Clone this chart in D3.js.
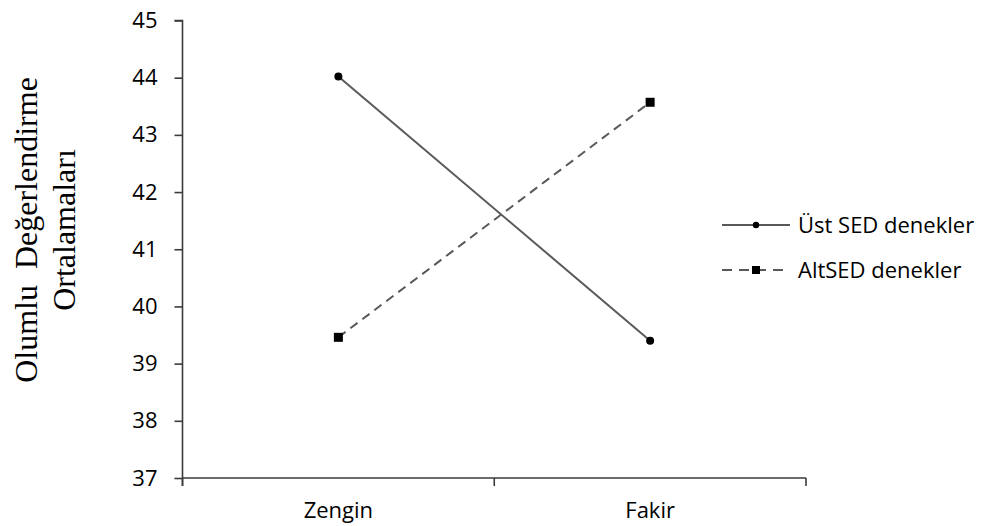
<!DOCTYPE html>
<html lang="tr">
    <head>
        <meta charset="UTF-8" />
        <title>Olumlu Değerlendirme Ortalamaları</title>
        <style>
            body {
                margin: 0;
                background: #fff;
            }

            .axis path,
            .axis line {
                stroke: #3b3b3b;
                stroke-width: 1.6px;
            }

            .axis text {
                font: 22px 'Open Sans', sans-serif;
                fill: #000;
            }

            .legend text {
                font: 22px 'Open Sans', sans-serif;
                fill: #000;
            }

            .ytitle {
                font: 32px 'Liberation Serif', 'Times New Roman', serif;
                fill: #000;
                white-space: pre;
            }

            .series {
                fill: none;
                stroke: #595959;
                stroke-width: 2px;
            }
        </style>
    </head>

    <body>
        <svg width="986" height="526"></svg>
        <script src="https://d3js.org/d3.v7.min.js"></script>
        <script>
            // data
            const categories = ['Zengin', 'Fakir'];
            const ustSED = [44.02, 39.4];
            const altSED = [39.46, 43.57];
            const seriesNames = ['Üst SED denekler', 'AltSED denekler'];
            const yTicks = [37, 38, 39, 40, 41, 42, 43, 44, 45];
            const titleLines = ['Olumlu  Değerlendirme', 'Ortalamaları'];

            const width = 986,
                height = 526;
            const svg = d3.select('svg').attr('width', width).attr('height', height);

            const x = d3.scaleBand().domain(categories).range([182.5, 806]).padding(0);
            const y = d3.scaleLinear().domain([37, 45]).range([478, 20.5]);

            // y axis
            svg.append('g')
                .attr('class', 'axis')
                .attr('transform', `translate(${x.range()[0]},0)`)
                .call(d3.axisLeft(y).tickValues(yTicks).tickSize(8).tickPadding(17).tickFormat(d3.format('d')))
                .call((g) => g.select('.domain').attr('d', `M-8,${y(45)}H0V${y(37) + 8}`));

            // x axis: labels at band centres, tick marks at band edges
            const xAxis = svg.append('g').attr('class', 'axis').attr('transform', `translate(0,${y(37)})`);
            xAxis.call(d3.axisBottom(x).tickSize(0).tickPadding(24));
            xAxis.select('.domain').attr('d', `M${x.range()[0]},0H${x.range()[1]}`);
            const edges = d3.range(categories.length + 1).map((i) => x.range()[0] + i * x.bandwidth());
            xAxis.selectAll('line.edge')
                .data(edges)
                .enter()
                .append('line')
                .attr('class', 'edge')
                .attr('x1', (d) => d)
                .attr('x2', (d) => d)
                .attr('y1', 0)
                .attr('y2', 8);

            const line = d3
                .line()
                .x((d, i) => x(categories[i]) + x.bandwidth() / 2)
                .y((d) => y(d));

            // series lines
            svg.append('path').datum(ustSED).attr('class', 'series').attr('d', line);
            svg.append('path').datum(altSED).attr('class', 'series').attr('stroke-dasharray', '9,6').attr('d', line);

            svg.selectAll('circle.ust')
                .data(ustSED)
                .enter()
                .append('circle')
                .attr('class', 'ust')
                .attr('cx', (d, i) => x(categories[i]) + x.bandwidth() / 2)
                .attr('cy', (d) => y(d))
                .attr('r', 4)
                .attr('fill', '#000');

            svg.selectAll('rect.alt')
                .data(altSED)
                .enter()
                .append('rect')
                .attr('class', 'alt')
                .attr('x', (d, i) => x(categories[i]) + x.bandwidth() / 2 - 4.5)
                .attr('y', (d) => y(d) - 4.5)
                .attr('width', 9)
                .attr('height', 9)
                .attr('fill', '#000');

            // legend
            const legend = svg.append('g').attr('class', 'legend');
            const rows = legend
                .selectAll('g')
                .data(seriesNames)
                .enter()
                .append('g')
                .attr('transform', (d, i) => `translate(722,${225 + i * 45})`);

            rows.append('line')
                .attr('class', 'series')
                .attr('x1', 0)
                .attr('x2', 68)
                .attr('stroke-dasharray', (d, i) => (i ? '10,7' : null));

            rows.filter((d, i) => i === 0)
                .append('circle')
                .attr('cx', 34)
                .attr('r', 3.2)
                .attr('fill', '#000');

            rows.filter((d, i) => i === 1)
                .append('rect')
                .attr('x', 30)
                .attr('y', -4)
                .attr('width', 8)
                .attr('height', 8)
                .attr('fill', '#000');

            rows.append('text')
                .attr('x', 76)
                .attr('dy', '0.35em')
                .text((d) => d);

            // y title (two rotated lines)
            svg.selectAll('text.ytitle')
                .data(titleLines)
                .enter()
                .append('text')
                .attr('class', 'ytitle')
                .attr('text-anchor', 'middle')
                .attr('transform', (d, i) => `translate(${37 + i * 38},230) rotate(-90)`)
                .text((d) => d);
        </script>
    </body>
</html>
